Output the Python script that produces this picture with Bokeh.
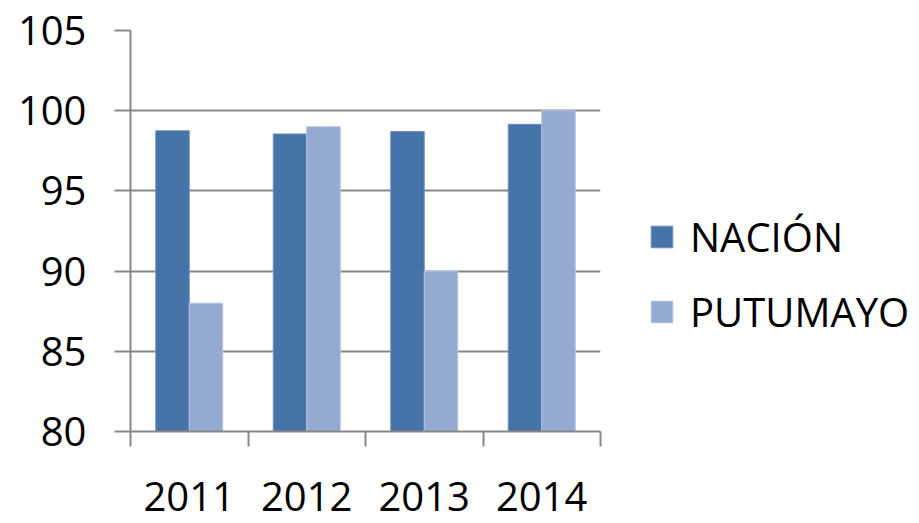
from bokeh.plotting import figure
from bokeh.models import ColumnDataSource, Range1d, FixedTicker, Legend, LegendItem
from bokeh.transform import dodge
from bokeh.embed import file_html
from bokeh.resources import INLINE

years = ["2011", "2012", "2013", "2014"]
nacion = [98.75, 98.55, 98.7, 99.15]
putumayo = [88.0, 99.0, 90.0, 100.0]
y_ticks = [80, 85, 90, 95, 100, 105]

FONT = "Open Sans"
GRID = "#878787"

xpos = [i + 0.5 for i in range(len(years))]
src = ColumnDataSource(dict(x=xpos, nacion=nacion, putumayo=putumayo))

p = figure(frame_width=470, frame_height=401, output_backend="svg", toolbar_location=None,
           x_range=Range1d(0, len(years)), y_range=Range1d(80, 105),
           min_border_left=130, min_border_top=30, min_border_right=0, min_border_bottom=90)
p.outline_line_color = None
p.background_fill_color = "white"

w = 0.285
r1 = p.vbar(x=dodge("x", -w / 2, range=p.x_range), top="nacion", bottom=80, width=w,
            source=src, fill_color="#4673A8", line_color="#6f90bd", line_width=1)
r2 = p.vbar(x=dodge("x", w / 2, range=p.x_range), top="putumayo", bottom=80, width=w,
            source=src, fill_color="#95AAD1", line_color="#b4c4e0", line_width=1)

# x axis
xa = p.xaxis[0]
xa.ticker = FixedTicker(ticks=xpos, minor_ticks=list(range(len(years) + 1)))
xa.major_label_overrides = {x: y for x, y in zip(xpos, years)}
xa.major_tick_out = 0
xa.major_tick_in = 0
xa.minor_tick_out = 15
xa.minor_tick_in = 0
xa.minor_tick_line_color = GRID
xa.minor_tick_line_width = 2
xa.axis_line_color = GRID
xa.axis_line_width = 2
xa.major_label_text_font = FONT
xa.major_label_text_font_size = "40px"
xa.major_label_text_color = "black"
xa.major_label_standoff = 35

# y axis
ya = p.yaxis[0]
ya.ticker = FixedTicker(ticks=y_ticks)
ya.major_tick_out = 16
ya.major_tick_in = 0
ya.minor_tick_out = 0
ya.minor_tick_in = 0
ya.major_tick_line_color = GRID
ya.major_tick_line_width = 2
ya.axis_line_color = GRID
ya.axis_line_width = 2
ya.major_label_text_font = FONT
ya.major_label_text_font_size = "40px"
ya.major_label_text_color = "black"
ya.major_label_standoff = 28

p.xgrid.grid_line_color = None
p.ygrid.grid_line_color = GRID
p.ygrid.grid_line_width = 2

legend = Legend(items=[LegendItem(label="NACIÓN", renderers=[r1]),
                       LegendItem(label="PUTUMAYO", renderers=[r2])],
                location=(48, 92), border_line_color=None, background_fill_alpha=0,
                padding=0, margin=0, glyph_width=27, glyph_height=27,
                label_standoff=15, spacing=20,
                label_text_font=FONT, label_text_font_size="40px", label_text_color="black")
p.add_layout(legend, "right")
p.min_border_right = 0

open("out.html", "w").write(file_html(p, INLINE))
